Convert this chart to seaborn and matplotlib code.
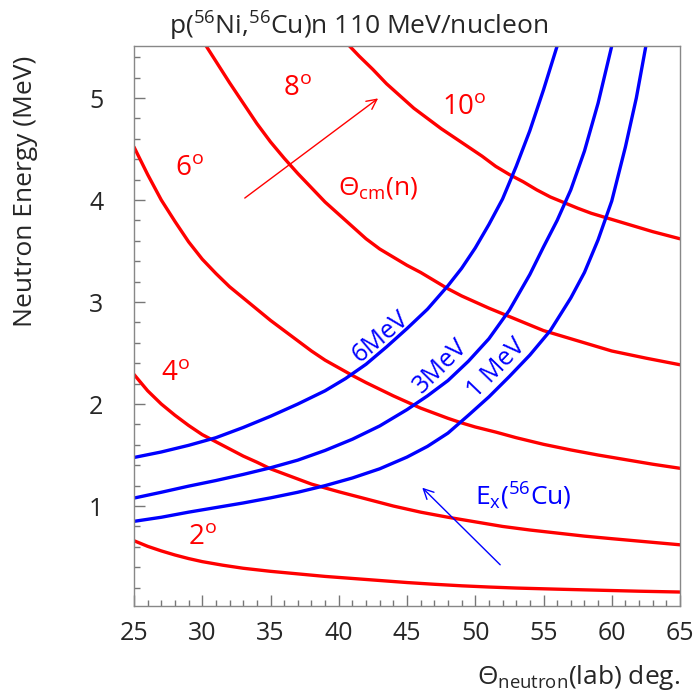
import numpy as np
import pandas as pd
import matplotlib
matplotlib.use("Agg")
import matplotlib.pyplot as plt
import seaborn as sns

# ---- data ----
theta_labels = ["2", "4", "6", "8", "10"]
x_2deg = [25, 26, 27, 28, 29, 30, 31.5, 33, 35, 37, 39, 41, 43, 45, 47, 49, 51, 53, 56, 59, 62, 65]
y_2deg = [0.66, 0.605, 0.56, 0.52, 0.485, 0.455, 0.42, 0.39, 0.36, 0.335, 0.31, 0.29, 0.27, 0.25,
          0.233, 0.218, 0.206, 0.196, 0.185, 0.175, 0.165, 0.157]
x_4deg = [25, 26, 27, 28, 29, 30, 31, 32, 33, 34, 35, 36.5, 38, 40, 42, 44, 46, 48, 50, 52, 54, 56,
          58, 60, 62.5, 65]
y_4deg = [2.29, 2.13, 2.00, 1.89, 1.79, 1.70, 1.63, 1.56, 1.49, 1.43, 1.365, 1.29, 1.215, 1.14,
          1.07, 1.00, 0.94, 0.89, 0.845, 0.80, 0.765, 0.735, 0.705, 0.68, 0.65, 0.62]
x_6deg = [25, 26, 27, 28, 29, 30, 31, 32, 33, 34, 35, 36, 37, 38, 39, 40, 41, 42, 43, 44, 45, 46,
          47, 48, 49, 50, 51.5, 53, 55, 57, 59, 61, 63, 65]
y_6deg = [4.52, 4.25, 4.00, 3.79, 3.59, 3.42, 3.28, 3.15, 3.04, 2.93, 2.82, 2.72, 2.62, 2.52,
          2.43, 2.355, 2.28, 2.21, 2.145, 2.08, 2.02, 1.96, 1.91, 1.86, 1.815, 1.775, 1.725, 1.67,
          1.605, 1.55, 1.50, 1.455, 1.41, 1.37]
x_8deg = [30, 31, 32, 33, 34, 35, 36, 37, 38, 39, 40, 41, 42, 43, 44, 45, 46, 47, 48, 49, 50, 51,
          52, 53, 54, 55, 56.5, 58, 60, 62.5, 65]
y_8deg = [5.57, 5.36, 5.15, 4.95, 4.75, 4.57, 4.41, 4.26, 4.12, 3.98, 3.86, 3.74, 3.62, 3.52,
          3.44, 3.36, 3.29, 3.21, 3.13, 3.06, 3.00, 2.94, 2.885, 2.83, 2.775, 2.72, 2.66, 2.60,
          2.52, 2.45, 2.385]
x_10deg = [40.5, 41.5, 42.5, 43.5, 44.5, 45.5, 46.5, 47.5, 48.5, 49.5, 50.5, 51.5, 52.5, 53.5,
           54.5, 55.5, 56.5, 57.5, 58.5, 59.5, 61, 63, 65]
y_10deg = [5.55, 5.41, 5.28, 5.14, 5.02, 4.90, 4.80, 4.70, 4.61, 4.52, 4.43, 4.33, 4.25, 4.18,
           4.10, 4.03, 3.975, 3.92, 3.87, 3.83, 3.77, 3.69, 3.62]

ex_labels = ["6MeV", "3MeV", "1 MeV"]
x_6mev = [25, 27, 29, 31, 33, 35, 37, 39, 40.5, 42, 43.5, 45, 46.5, 48, 49, 50, 51, 52, 53, 54,
          55, 56]
y_6mev = [1.476, 1.53, 1.595, 1.67, 1.77, 1.88, 2.00, 2.13, 2.25, 2.39, 2.56, 2.74, 2.93, 3.16,
          3.33, 3.53, 3.76, 4.01, 4.33, 4.68, 5.08, 5.51]
x_3mev = [25, 27, 29, 31, 33, 35, 37, 39, 41, 43, 45, 46.5, 48, 49.5, 51, 52.5, 54, 55, 56, 57,
          58, 59, 60]
y_3mev = [1.078, 1.135, 1.195, 1.25, 1.31, 1.375, 1.45, 1.545, 1.655, 1.785, 1.945, 2.08, 2.23,
          2.42, 2.64, 2.92, 3.27, 3.54, 3.80, 4.10, 4.48, 4.95, 5.51]
x_1mev = [25, 27, 29, 31, 33, 35, 37, 39, 41, 43, 45, 46.5, 48, 49.5, 51, 52.5, 54, 55.5, 57, 58,
          59, 60, 61, 61.8, 62.5]
y_1mev = [0.85, 0.89, 0.94, 0.985, 1.03, 1.08, 1.135, 1.20, 1.275, 1.365, 1.48, 1.585, 1.715,
          1.89, 2.07, 2.27, 2.48, 2.72, 3.04, 3.29, 3.61, 3.99, 4.52, 5.00, 5.51]

RED = "#ff0000"
BLUE = "#0000ff"
FONT = "Open Sans"

sns.set_style("white")
plt.rcParams["font.family"] = [FONT, "DejaVu Sans"]
plt.rcParams["mathtext.fontset"] = "custom"
plt.rcParams["mathtext.rm"] = FONT
plt.rcParams["mathtext.it"] = FONT + ":italic"

fig = plt.figure(figsize=(6.97, 6.96), dpi=100)
ax = fig.add_axes([134 / 697, 1 - 606 / 696, (680 - 134) / 697, (606 - 46) / 696])

red_sets = [(x_2deg, y_2deg), (x_4deg, y_4deg), (x_6deg, y_6deg), (x_8deg, y_8deg), (x_10deg, y_10deg)]
for lab, (xs, ys) in zip(theta_labels, red_sets):
    df = pd.DataFrame({"x": xs, "y": ys})
    sns.lineplot(data=df, x="x", y="y", ax=ax, color=RED, lw=2.4, sort=False, estimator=None)

blue_sets = [(x_6mev, y_6mev), (x_3mev, y_3mev), (x_1mev, y_1mev)]
for lab, (xs, ys) in zip(ex_labels, blue_sets):
    df = pd.DataFrame({"x": xs, "y": ys})
    sns.lineplot(data=df, x="x", y="y", ax=ax, color=BLUE, lw=2.4, sort=False, estimator=None)

ax.set_xlim(25, 65)
ax.set_ylim(0.02, 5.51)
ax.set_xticks([25, 30, 35, 40, 45, 50, 55, 60, 65])
ax.set_yticks([1, 2, 3, 4, 5])
ax.set_xticks(np.arange(25, 66, 1), minor=True)
ax.set_yticks(np.arange(0.2, 5.5, 0.2), minor=True)
ax.tick_params(axis="both", which="major", direction="in", length=8, width=1, color="#777777",
               labelsize=18, top=False, right=False, left=True, bottom=True)
ax.tick_params(axis="x", which="major", pad=11)
ax.tick_params(axis="y", which="major", pad=22)
ax.tick_params(axis="both", which="minor", direction="in", length=4, width=1, color="#777777",
               top=False, right=False, left=True, bottom=True)
for sp in ax.spines.values():
    sp.set_color("#888888")
    sp.set_linewidth(1.0)
ax.set_xlabel("")
ax.set_ylabel("")

# Axis labels
fig.text(680 / 697, 1 - 677 / 696, r"$\Theta_{\mathrm{neutron}}$(lab) deg.", ha="right", va="center",
         fontsize=19)
fig.text(26 / 697, 1 - 191 / 696, "Neutron Energy (MeV)", ha="center", va="center",
         rotation=90, fontsize=19)
fig.text(359 / 697, 1 - 26 / 696, r"p($^{56}$Ni,$^{56}$Cu)n 110 MeV/nucleon", ha="center",
         va="center", fontsize=19)

# Curve labels (data coordinates)
def px2d(px, py):
    return 25 + (px - 134.3) / 13.67, (608.3 - py) / 102.0

red_label_pos = [(203, 537), (176, 373), (190, 168), (298, 88), (465, 107)]
for lab, (px, py) in zip(theta_labels, red_label_pos):
    x, y = px2d(px, py)
    ax.text(x, y, lab + r"$^{\mathrm{o}}$", color=RED, fontsize=20, ha="center", va="center")

x, y = px2d(379, 188)
ax.text(x, y, r"$\Theta_{\mathrm{cm}}$(n)", color=RED, fontsize=19, ha="center", va="center")

ex_label_pos = [(381, 337, 40), (441, 366, 45), (497, 369, 46)]
for lab, (px, py, rot) in zip(ex_labels, ex_label_pos):
    x, y = px2d(px, py)
    ax.text(x, y, lab, color=BLUE, fontsize=18, ha="center", va="center", rotation=rot,
            rotation_mode="anchor")

x, y = px2d(524, 497)
ax.text(x, y, r"E$_{\mathrm{x}}$($^{56}$Cu)", color=BLUE, fontsize=19, ha="center", va="center")

# Arrows
t = px2d(243, 200); h = px2d(381, 97)
ax.annotate("", xy=h, xytext=t,
            arrowprops=dict(arrowstyle="->", color=RED, lw=1.0, mutation_scale=18))
t = px2d(503, 567); h = px2d(421, 486)
ax.annotate("", xy=h, xytext=t,
            arrowprops=dict(arrowstyle="->", color=BLUE, lw=1.0, mutation_scale=18))

fig.savefig("out.png", dpi=100)
